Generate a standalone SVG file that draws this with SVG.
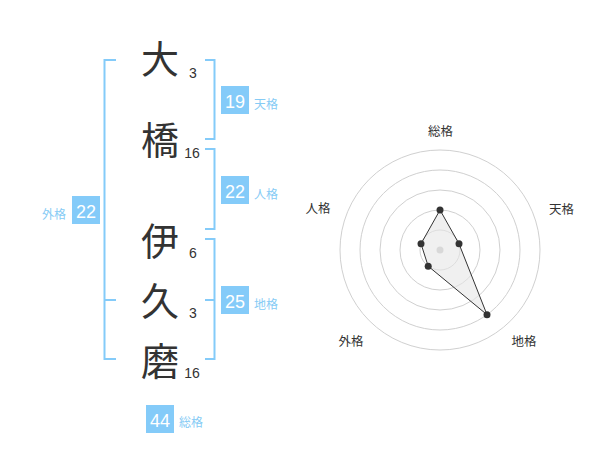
<svg xmlns="http://www.w3.org/2000/svg" width="600" height="470" viewBox="0 0 600 470">
<style>
.ch{font-family:"Noto Sans CJK JP","Noto Sans CJK SC",sans-serif;font-size:38px;fill:#333;text-anchor:middle}
.st{font-family:"Liberation Sans",Arial,sans-serif;font-size:14px;fill:#333;text-anchor:middle}
.box{fill:#84cbf9}
.bn{font-family:"Liberation Sans",Arial,sans-serif;font-size:18px;fill:#fff;text-anchor:middle}
.bl{font-family:"Noto Sans CJK JP",sans-serif;font-size:12px;fill:#86cbf5}
.br{fill:none;stroke:#84cbf9;stroke-width:2}
.ring{fill:none;stroke:#d0d0d0;stroke-width:1}
.rl{font-family:"Noto Sans CJK JP",sans-serif;font-size:12.5px;fill:#333;text-anchor:middle}
.pt{fill:#333}
</style>
<rect width="600" height="470" fill="#fff"/>
<g id="connectors">
<path class="br" d="M116,60 H104.5 V359 H116 M104.5,300 H116"/>
<path class="br" d="M205,60 H214.5 V139 H205"/>
<path class="br" d="M205,149 H214.5 V229 H205"/>
<path class="br" d="M205,239 H214.5 V359 H205 M205,300 H214.5"/>
</g>
<g id="char-1"><text class="ch" x="160" y="73">大</text><text class="st" x="193" y="77.5">3</text></g>
<g id="char-2"><text class="ch" x="160" y="153.5">橋</text><text class="st" x="192" y="158">16</text></g>
<g id="char-3"><text class="ch" x="160" y="254.5">伊</text><text class="st" x="193" y="257.5">6</text></g>
<g id="char-4"><text class="ch" x="160" y="314.5">久</text><text class="st" x="193" y="317.5">3</text></g>
<g id="char-5"><text class="ch" x="160" y="374.5">磨</text><text class="st" x="192" y="377.5">16</text></g>
<g id="tenkaku"><rect class="box" x="221" y="86" width="28" height="28"/><text class="bn" x="235" y="107.5">19</text><text class="bl" x="254" y="108.5">天格</text></g>
<g id="jinkaku"><rect class="box" x="221" y="176" width="28" height="28"/><text class="bn" x="235" y="197.5">22</text><text class="bl" x="254" y="198.5">人格</text></g>
<g id="chikaku"><rect class="box" x="221" y="286" width="28" height="28"/><text class="bn" x="235" y="307.5">25</text><text class="bl" x="254" y="308.5">地格</text></g>
<g id="gaikaku"><rect class="box" x="72" y="196" width="28" height="28"/><text class="bn" x="86" y="217.5">22</text><text class="bl" x="66" y="218.5" text-anchor="end">外格</text></g>
<g id="soukaku"><rect class="box" x="146" y="405" width="28" height="28"/><text class="bn" x="160" y="426.5">44</text><text class="bl" x="179" y="427">総格</text></g>
<g id="radar">
<circle class="ring" cx="440" cy="250" r="100"/>
<circle class="ring" cx="440" cy="250" r="80"/>
<circle class="ring" cx="440" cy="250" r="60"/>
<circle class="ring" cx="440" cy="250" r="40"/>
<circle class="ring" cx="440" cy="250" r="20"/>
<circle cx="440" cy="250" r="3.5" fill="#c4c4c4"/>
<polygon points="440,210 459,243.8 487,314.7 428.2,266.2 421,243.8" fill="#e6e6e6" fill-opacity="0.6" stroke="#333" stroke-width="1"/>
<circle class="pt" cx="440" cy="210" r="3.5"/>
<circle class="pt" cx="459" cy="243.8" r="3.5"/>
<circle class="pt" cx="487" cy="314.7" r="3.5"/>
<circle class="pt" cx="428.2" cy="266.2" r="3.5"/>
<circle class="pt" cx="421" cy="243.8" r="3.5"/>
<text class="rl" x="440.5" y="135.5">総格</text>
<text class="rl" x="561.5" y="213.5">天格</text>
<text class="rl" x="524" y="345.5">地格</text>
<text class="rl" x="351" y="345.5">外格</text>
<text class="rl" x="318" y="212.5">人格</text>
</g>
</svg>
